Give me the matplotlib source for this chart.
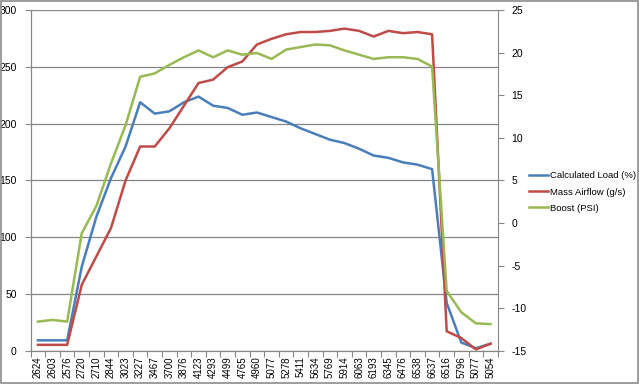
import matplotlib
matplotlib.use("Agg")
import matplotlib.pyplot as plt
from matplotlib.patches import Rectangle
import numpy as np

rpm = ["2624", "2603", "2576", "2720", "2710", "2844", "3023", "3227", "3467", "3700",
       "3876", "4123", "4293", "4499", "4765", "4960", "5077", "5278", "5411", "5634",
       "5769", "5914", "6063", "6193", "6345", "6476", "6538", "6637", "6516", "5796",
       "5077", "5054"]

# left axis
calc_load = [9, 9, 9, 74, 118, 152, 180, 219, 209, 211,
             219, 224, 216, 214, 208, 210, 206, 202, 196, 191,
             186, 183, 178, 172, 170, 166, 164, 160, 42, 7,
             2, 6]
mass_airflow = [5, 5, 5, 58, 83, 108, 150, 180, 180, 196,
                216, 236, 239, 250, 255, 270, 275, 279, 281, 281,
                282, 284, 282, 277, 282, 280, 281, 279, 17, 11,
                1, 6]
# right axis
boost = [-11.6, -11.4, -11.6, -1.2, 2.0, 7.0, 11.5, 17.2, 17.6, 18.6,
         19.5, 20.3, 19.5, 20.3, 19.8, 20.0, 19.3, 20.4, 20.7, 21.0,
         20.9, 20.3, 19.8, 19.3, 19.5, 19.5, 19.3, 18.4, -8.0, -10.5,
         -11.8, -11.9]

blue = "#4a7ebb"
red = "#be4b48"
green = "#98b954"
grid_c = "#868686"
axis_c = "#868686"

plt.rcParams['font.family'] = ['Liberation Sans', 'DejaVu Sans']
plt.rcParams['axes.unicode_minus'] = False

fig = plt.figure(figsize=(6.39, 3.84), dpi=100)
ax = fig.add_axes([0.048, 0.0872, 0.731, 0.8855])
x = np.arange(len(rpm))

l1, = ax.plot(x, calc_load, color=blue, lw=1.8, label="Calculated Load (%)")
l2, = ax.plot(x, mass_airflow, color=red, lw=1.8, label="Mass Airflow (g/s)")
ax2 = ax.twinx()
l3, = ax2.plot(x, boost, color=green, lw=1.8, label="Boost (PSI)")

ax.set_xlim(-0.5, len(rpm) - 0.5)
ax.set_ylim(0, 300)
ax.set_yticks(np.arange(0, 301, 50))
ax2.set_ylim(-15, 25)
ax2.set_yticks(np.arange(-15, 26, 5))

ax.yaxis.grid(True, color=grid_c, lw=0.9)
ax.set_axisbelow(True)

# category ticks between labels, labels at the centre
ax.set_xticks(np.arange(-0.5, len(rpm), 1.0))
ax.set_xticklabels([])
ax.set_xticks(x, minor=True)
ax.set_xticklabels(rpm, minor=True, rotation=90, fontsize=7)
ax.tick_params(axis='x', which='major', length=4, color=axis_c, direction='out')
ax.tick_params(axis='x', which='minor', length=0, pad=4)
ax.tick_params(axis='y', length=4, color=axis_c, labelsize=7.5, pad=6)
ax2.tick_params(axis='y', length=4, color=axis_c, labelsize=7.5, pad=6)

for a in (ax, ax2):
    a.spines['top'].set_visible(False)
    for s in ('left', 'right', 'bottom'):
        a.spines[s].set_color(axis_c)
ax.spines['right'].set_visible(False)

fig.legend(handles=[l1, l2, l3], loc='center left', bbox_to_anchor=(0.818, 0.5),
           frameon=False, fontsize=6.8, handlelength=2.0, handletextpad=0.2,
           labelspacing=0.75, borderpad=0.2)

# chart area border
fig.patches.append(Rectangle((0.001, 0.002), 0.997, 0.995, transform=fig.transFigure,
                             fill=False, edgecolor="#8c8c8c", lw=1.2))

fig.savefig("out.png", dpi=100)
